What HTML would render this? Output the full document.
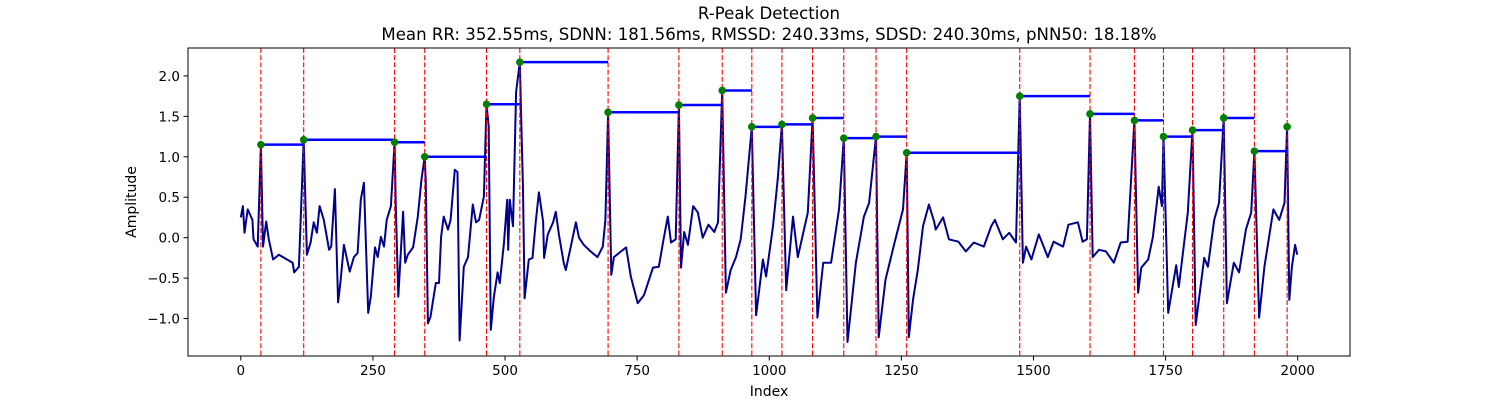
<!DOCTYPE html>
<html><head><meta charset="utf-8"><style>
html,body{margin:0;padding:0;background:#fff;}
svg{display:block;font-family:"DejaVu Sans","Liberation Sans",sans-serif;}
</style></head><body>
<svg id="chart" width="1500" height="400" viewBox="0 0 1500 400" xmlns="http://www.w3.org/2000/svg">
<rect x="0" y="0" width="1500" height="400" fill="#fff"/>
<text x="769" y="19" font-size="16.6" text-anchor="middle" fill="#000">R-Peak Detection</text>
<text x="769" y="40" font-size="16.6" text-anchor="middle" fill="#000">Mean RR: 352.55ms, SDNN: 181.56ms, RMSSD: 240.33ms, SDSD: 240.30ms, pNN50: 18.18%</text>
<g id="plot"></g>
<text x="769" y="396" font-size="14" text-anchor="middle">Index</text>
<text transform="translate(136,202) rotate(-90)" font-size="14" text-anchor="middle">Amplitude</text>
</svg>
<script>
const sigX=[0,4,7,13,22,24,32,38,42,48,53,61,72,98,101,110,119,125,132,138,144,149,157,167,171,178,184,189,195,206,214,221,227,233,241,246,254,259,265,271,276,284,291,293,298,307,311,316,326,335,342,348,350,354,359,369,375,379,384,392,397,405,410,414,422,430,439,445,451,460,465,469,473,479,486,490,498,504,506,509,515,521,528,534,537,545,552,558,564,572,574,581,591,596,602,611,615,624,634,640,649,662,675,685,690,695,701,706,729,738,751,763,780,791,799,808,814,823,829,833,839,846,856,865,874,885,896,903,911,918,927,937,946,955,967,975,988,994,1007,1016,1024,1032,1045,1054,1073,1082,1091,1102,1117,1132,1141,1148,1164,1179,1189,1202,1207,1220,1236,1253,1260,1264,1272,1281,1291,1302,1312,1315,1329,1340,1358,1372,1387,1406,1420,1427,1442,1454,1467,1474,1480,1486,1496,1510,1527,1538,1556,1566,1584,1593,1601,1607,1612,1624,1637,1652,1665,1678,1691,1698,1704,1717,1726,1737,1743,1746,1755,1770,1775,1792,1801,1807,1823,1830,1842,1851,1860,1866,1879,1889,1902,1912,1918,1927,1937,1954,1965,1975,1980,1984,1989,1995,1999];
const sigY=[0.25,0.39,0.06,0.35,0.22,-0.02,-0.11,1.15,-0.11,0.20,-0.02,-0.27,-0.21,-0.31,-0.43,-0.36,1.21,-0.21,-0.06,0.19,0.06,0.39,0.22,-0.15,-0.11,0.60,-0.80,-0.52,-0.09,-0.42,-0.24,-0.19,0.47,0.68,-0.93,-0.73,-0.12,-0.24,0.01,-0.11,0.22,0.39,1.18,0.43,-0.73,0.32,-0.31,-0.21,-0.12,0.26,0.72,1.00,0.68,-1.06,-0.98,-0.56,-0.56,0.01,0.26,0.10,0.22,0.84,0.81,-1.27,-0.36,-0.24,0.41,0.19,0.22,0.51,1.65,1.38,-1.14,-0.73,-0.43,-0.56,-0.06,0.47,-0.15,0.47,0.14,1.80,2.17,0.60,-0.75,-0.27,-0.25,0.19,0.56,0.20,-0.25,0.04,0.19,0.32,0.04,-0.31,-0.40,-0.12,0.19,0.00,-0.09,-0.17,-0.24,-0.11,0.22,1.55,-0.46,-0.24,-0.12,-0.48,-0.81,-0.71,-0.37,-0.36,-0.06,0.26,-0.06,-0.02,1.64,-0.37,0.07,-0.09,0.39,0.31,0.00,0.16,0.07,0.19,1.82,-0.68,-0.40,-0.24,-0.02,0.51,1.37,-0.96,-0.27,-0.48,0.14,0.72,1.40,-0.65,0.26,-0.24,0.31,1.48,-0.99,-0.31,-0.31,0.35,1.23,-1.29,-0.31,0.26,0.43,1.25,-1.23,-0.52,-0.09,0.35,1.05,-1.23,-0.77,-0.40,0.14,0.41,0.20,0.10,0.25,-0.02,-0.05,-0.17,-0.06,-0.11,0.14,0.22,-0.02,0.06,-0.06,1.75,-0.31,-0.11,-0.27,0.04,-0.24,-0.05,-0.11,0.16,0.19,-0.05,-0.02,1.53,-0.24,-0.15,-0.17,-0.31,-0.06,-0.05,1.45,-0.68,-0.37,-0.27,0.01,0.63,0.39,1.25,-0.93,-0.34,-0.61,0.31,1.33,-1.08,-0.25,-0.36,0.22,0.43,1.48,-0.81,-0.31,-0.43,0.10,0.31,1.07,-0.99,-0.36,0.35,0.22,0.43,1.37,-0.77,-0.36,-0.09,-0.21];
const peakX=[38,119,291,348,465,528,695,829,911,967,1024,1082,1141,1202,1260,1474,1607,1691,1746,1801,1860,1918,1980];
const peakY=[1.15,1.21,1.18,1.00,1.65,2.17,1.55,1.64,1.82,1.37,1.40,1.48,1.23,1.25,1.05,1.75,1.53,1.45,1.25,1.33,1.48,1.07,1.37];
const xTicks=[0,250,500,750,1000,1250,1500,1750,2000];
const yTicks=[-1.0,-0.5,0.0,0.5,1.0,1.5,2.0];

const L=188,R=1350,T=48,B=356;
const xMin=-99.95,xMax=2098.95,yMin=-1.463,yMax=2.345;
function sx(v){return L+(v-xMin)/(xMax-xMin)*(R-L);}
function sy(v){return B-(v-yMin)/(yMax-yMin)*(B-T);}
const NS='http://www.w3.org/2000/svg';
const g=document.getElementById('plot');
function mk(tag,attrs,parent){const e=document.createElementNS(NS,tag);for(const k in attrs)e.setAttribute(k,attrs[k]);(parent||g).appendChild(e);return e;}

let d='';
for(let i=0;i<sigX.length;i++){d+=(i?'L':'M')+sx(sigX[i]).toFixed(1)+' '+sy(sigY[i]).toFixed(1);}
const sig=mk('path',{d:d,fill:'none',stroke:'#00008b','stroke-width':2,'stroke-linejoin':'round'});



for(let i=0;i<peakX.length;i++){
  const ln=mk('line',{x1:sx(peakX[i]),x2:sx(peakX[i]),y1:T,y2:B,stroke:'#ff0000','stroke-width':1.1,'stroke-dasharray':'5 2.2'});
  
  
}
for(let i=0;i<peakX.length-1;i++){
  const ln=mk('line',{x1:sx(peakX[i]),x2:sx(peakX[i+1]),y1:sy(peakY[i]),y2:sy(peakY[i]),stroke:'#0000ff','stroke-width':2.5});
  
  
}
for(let i=0;i<peakX.length;i++){
  const c=mk('circle',{cx:sx(peakX[i]),cy:sy(peakY[i]),r:3.8,fill:'#008000'});
  
  
}
const fr=mk('rect',{x:L,y:T,width:R-L,height:B-T,fill:'none',stroke:'#000','stroke-width':1});


for(const t of xTicks){
  const x=sx(t);
  mk('line',{x1:x,x2:x,y1:B,y2:B+4.5,stroke:'#000','stroke-width':1});
  const tx=mk('text',{x:x,y:B+19,'font-size':13.5,'text-anchor':'middle'});
  tx.textContent=String(t);
  
  
}
for(const t of yTicks){
  const y=sy(t);
  mk('line',{x1:L-4.5,x2:L,y1:y,y2:y,stroke:'#000','stroke-width':1});
  const tx=mk('text',{x:L-8,y:y+5,'font-size':13.5,'text-anchor':'end'});
  tx.textContent=(t<0?'\u2212':'')+Math.abs(t).toFixed(1);
  
  
}
</script>
</body></html>
